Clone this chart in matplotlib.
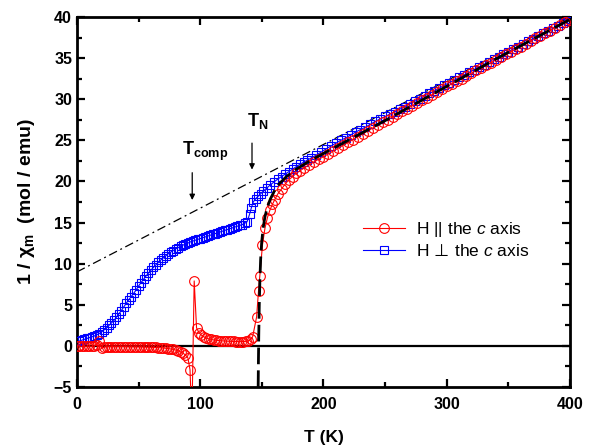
import numpy as np
import matplotlib
matplotlib.use('Agg')
import matplotlib.pyplot as plt
from matplotlib.ticker import MultipleLocator
from matplotlib.font_manager import FontProperties

plt.rcParams['font.family'] = ['Liberation Sans', 'DejaVu Sans']
plt.rcParams['mathtext.fontset'] = 'custom'
plt.rcParams['mathtext.rm'] = 'DejaVu Sans'   # only used for the perp sign
plt.rcParams['mathtext.bf'] = 'Liberation Sans:bold'
plt.rcParams['mathtext.it'] = 'Liberation Sans:italic'
plt.rcParams['mathtext.default'] = 'bf'

#### H || c axis (red circles)
red_T = [1, 2, 4, 6, 8, 10, 12, 14, 16, 18, 20, 22, 24, 26, 28, 30, 32, 34, 36, 38,
         40, 42, 44, 46, 48, 50, 52, 54, 56, 58, 60, 62, 64, 66, 68, 70, 72, 74, 76, 78,
         80, 82, 84, 86, 88, 90, 91.7, 93.2, 95.1, 97, 99, 101, 103, 105, 107, 109,
         111, 113, 115, 117, 119, 121, 123, 125, 127, 129, 131, 133, 135, 137, 139, 141,
         142.5, 145.7, 147.3, 148.3, 150.5, 152.5, 154.5, 156.5, 158.5, 160.5, 163, 166,
         169, 172, 175, 178, 181, 184, 188, 192, 196, 200, 204, 208, 212, 216, 220, 224,
         228, 232, 236, 240, 244, 248, 252, 256, 260, 264, 268, 272, 276, 280, 284, 288,
         292, 296, 300, 304, 308, 312, 316, 320, 324, 328, 332, 336, 340, 344, 348, 352,
         356, 360, 364, 368, 372, 376, 380, 384, 388, 392, 396, 400]
red_y = [0.0, -0.05, -0.05, -0.05, -0.05, -0.05, -0.05, 0.0, 0.1, 0.6, -0.3, -0.15, -0.1, -0.1, -0.1, -0.1, -0.1, -0.1, -0.1, -0.1,
         -0.1, -0.12, -0.12, -0.12, -0.12, -0.13, -0.13, -0.14, -0.15, -0.15, -0.16, -0.17, -0.18, -0.2, -0.22, -0.25, -0.28, -0.32, -0.37, -0.43,
         -0.5, -0.6, -0.72, -0.88, -1.1, -1.45, -2.9, -9.0, 7.9, 2.2, 1.6, 1.3, 1.1, 0.95, 0.85, 0.78,
         0.72, 0.68, 0.65, 0.62, 0.6, 0.58, 0.56, 0.55, 0.54, 0.53, 0.52, 0.52, 0.53, 0.55, 0.62, 0.8,
         1.1, 3.5, 6.7, 8.5, 12.3, 14.3, 15.6, 16.5, 17.2, 17.8, 18.5, 19.1,
         19.7, 20.2, 20.6, 21.0, 21.3, 21.6, 22.0, 22.35, 22.7, 23.0, 23.35, 23.7, 24.05, 24.4, 24.75, 25.1,
         25.45, 25.8, 26.15, 26.5, 26.85, 27.2, 27.5, 27.85, 28.2, 28.55, 28.85, 29.2, 29.55, 29.9, 30.2, 30.55,
         30.85, 31.2, 31.55, 31.85, 32.2, 32.5, 32.85, 33.15, 33.5, 33.8, 34.15, 34.45, 34.8, 35.1, 35.45, 35.75,
         36.1, 36.4, 36.75, 37.05, 37.4, 37.7, 38.05, 38.35, 38.7, 39.0, 39.35, 39.65]

#### H perp c axis (blue squares)
blue_T = [2, 4, 6, 8, 10, 12, 14, 16, 18, 20, 22, 24, 26, 28, 30, 32, 34, 36, 38, 40,
          42, 44, 46, 48, 50, 52, 54, 56, 58, 60, 62, 64, 66, 68, 70, 72, 74, 76, 78, 80,
          82, 84, 86, 88, 90, 92, 94, 96, 98, 100, 102, 104, 106, 108, 110, 112, 114, 116, 118, 120,
          122, 124, 126, 128, 130, 132, 134, 136, 138, 140, 141.5, 143, 145, 147, 149, 151, 154, 157, 160, 163,
          166, 169, 172, 175, 178, 181, 184, 187, 190, 194, 198, 202, 206, 210, 214, 218, 222, 226, 230, 234,
          238, 242, 246, 250, 254, 258, 262, 266, 270, 274, 278, 282, 286, 290, 294, 298, 302, 306, 310, 314,
          318, 322, 326, 330, 334, 338, 342, 346, 350, 354, 358, 362, 366, 370, 374, 378, 382, 386, 390, 394,
          398, 400]
blue_y = [0.6, 0.7, 0.8, 0.9, 1.0, 1.1, 1.2, 1.35, 1.5, 1.7, 1.95, 2.2, 2.5, 2.8, 3.1, 3.5, 3.9, 4.3, 4.75, 5.2,
          5.6, 6.0, 6.4, 6.8, 7.3, 7.7, 8.1, 8.5, 8.85, 9.2, 9.55, 9.85, 10.15, 10.45, 10.7, 10.95, 11.2, 11.4, 11.6, 11.8,
          11.95, 12.1, 12.25, 12.4, 12.5, 12.65, 12.75, 12.85, 12.95, 13.05, 13.15, 13.25, 13.35, 13.45, 13.55, 13.65, 13.75, 13.85, 13.95, 14.05,
          14.15, 14.25, 14.35, 14.45, 14.55, 14.65, 14.75, 14.9, 15.1, 16.0, 16.8, 17.5, 17.9, 18.2, 18.5, 18.8, 19.2, 19.6, 19.95, 20.3,
          20.6, 20.9, 21.2, 21.5, 21.8, 22.1, 22.35, 22.6, 22.85, 23.2, 23.55, 23.95, 24.3, 24.65, 25.0, 25.3, 25.65, 26.0, 26.3, 26.6,
          26.95, 27.3, 27.6, 27.9, 28.2, 28.5, 28.8, 29.1, 29.45, 29.75, 30.05, 30.4, 30.7, 31.0, 31.35, 31.7, 32.0, 32.3, 32.65, 32.95,
          33.25, 33.6, 33.9, 34.2, 34.55, 34.85, 35.15, 35.5, 35.8, 36.1, 36.4, 36.75, 37.05, 37.35, 37.7, 38.0, 38.3, 38.6, 38.95, 39.25,
          39.55, 39.7]

#### fitted curve (black dashed) and high-T linear (dash-dot)
fit_T = [147.0, 147.2, 147.5, 147.9, 148.4, 149.0, 149.8, 151, 152.5, 154.5, 157, 160,
         164, 170, 178, 190, 205, 225, 250, 280, 310, 340, 370, 400]
fit_y = [-5.0, -2.0, 1.5, 5.0, 8.0, 10.5, 12.5, 14.3, 15.7, 16.9, 17.9, 18.8,
         19.7, 20.6, 21.5, 22.6, 23.8, 25.4, 27.4, 29.9, 32.4, 34.9, 37.3, 39.7]
lin_T = [0, 400]
lin_y = [9.0, 40.0]

################### Begin plotting
fig = plt.figure(figsize=(5.94, 4.47), dpi=100)
ax = fig.add_axes([0.1296, 0.1342, 0.8300, 0.8278])

ax.axhline(0, color='k', lw=1.6, zorder=1)
ax.plot(lin_T, lin_y, color='k', lw=0.9, linestyle=(0, (7, 3, 1.5, 3)), zorder=2)

ax.plot(blue_T, blue_y, color='#0000ff', lw=0.8, marker='s', ms=5.8, mfc='none',
        mec='#0000ff', mew=0.8, label=r'H $\!\mathrm{\bot}\!$ the $\mathit{c}$ axis', zorder=3)
ax.plot(red_T, red_y, color='#ff0000', lw=0.8, marker='o', ms=7, mfc='none',
        mec='#ff0000', mew=0.8, label=r'H || the $\mathit{c}$ axis', zorder=4)
ax.plot(fit_T, fit_y, color='k', lw=2.0, linestyle=(0, (6, 2.2)), zorder=5)

### labels for transitions
ax.text(85, 23.2, r'$\mathbf{T}_{\mathbf{comp}}$', fontsize=13, ha='left', va='baseline')
ax.text(138, 26.8, r'$\mathbf{T}_{\mathbf{N}}$', fontsize=13, ha='left', va='baseline')
ax.annotate('', xy=(93.5, 17.4), xytext=(93.5, 21.4),
            arrowprops=dict(arrowstyle='-|>', lw=0.9, color='k', mutation_scale=8))
ax.annotate('', xy=(142, 21.1), xytext=(142, 25.0),
            arrowprops=dict(arrowstyle='-|>', lw=0.9, color='k', mutation_scale=8))

ax.set_xlim(0, 400)
ax.set_ylim(-5, 40)
ax.xaxis.set_major_locator(MultipleLocator(100))
ax.xaxis.set_minor_locator(MultipleLocator(50))
ax.yaxis.set_major_locator(MultipleLocator(5))
ax.yaxis.set_minor_locator(MultipleLocator(2.5))
ax.tick_params(which='both', direction='in', top=True, right=True, width=1.6)
ax.tick_params(which='major', length=6, labelsize=11.5)
ax.tick_params(axis='x', which='major', pad=7)
ax.tick_params(axis='y', which='major', pad=3.5)
ax.tick_params(which='minor', length=3.5)
for lab in ax.get_xticklabels() + ax.get_yticklabels():
    lab.set_fontweight('bold')
for s in ax.spines.values():
    s.set_linewidth(2.0)

ax.set_xlabel('T (K)', fontsize=12.5, fontweight='bold', labelpad=13)
ax.set_ylabel(r'1 / $\chi_m$  (mol / emu)', fontsize=14, fontweight='bold', labelpad=12)

h, l = ax.get_legend_handles_labels()
ax.legend([h[1], h[0]], [l[1], l[0]], loc='upper left', bbox_to_anchor=(0.58, 0.452),
          frameon=False, borderpad=0, borderaxespad=0, handlelength=2.4,
          handletextpad=0.63, labelspacing=0.25,
          prop=FontProperties(family=['Liberation Sans', 'DejaVu Sans'], size=12.5))

fig.savefig('out.png', dpi=100)
